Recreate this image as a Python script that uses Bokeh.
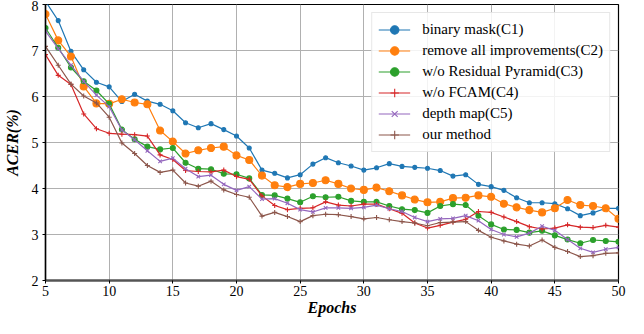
from bokeh.plotting import figure
from bokeh.models import Range1d, Legend, LegendItem, FixedTicker
from bokeh.embed import file_html
from bokeh.resources import INLINE

epochs = list(range(5, 51))

c1_binary_mask = [8.07, 7.65, 6.98, 6.58, 6.31, 6.21, 5.89, 6.05, 5.90, 5.83, 5.69, 5.43, 5.32, 5.41, 5.28,
                  5.14, 4.88, 4.40, 4.33, 4.23, 4.30, 4.53, 4.67, 4.56, 4.49, 4.40, 4.45, 4.54, 4.48, 4.46,
                  4.44, 4.39, 4.27, 4.30, 4.09, 4.04, 3.96, 3.80, 3.69, 3.69, 3.67, 3.56, 3.41, 3.47, 3.57, 3.57]
c2_remove_all = [7.79, 7.22, 6.87, 6.22, 5.85, 5.84, 5.94, 5.87, 5.83, 5.26, 5.02, 4.76, 4.83, 4.88, 4.91,
                 4.72, 4.62, 4.28, 4.07, 4.03, 4.10, 4.12, 4.18, 4.10, 4.00, 3.97, 4.02, 3.94, 3.85, 3.76,
                 3.70, 3.71, 3.79, 3.80, 3.85, 3.82, 3.67, 3.59, 3.53, 3.48, 3.57, 3.75, 3.64, 3.62, 3.57, 3.34]
c3_wo_residual = [7.49, 7.06, 6.63, 6.33, 6.13, 5.84, 5.28, 5.07, 4.91, 4.85, 4.88, 4.56, 4.43, 4.42, 4.32,
                  4.31, 4.22, 3.86, 3.85, 3.78, 3.70, 3.83, 3.81, 3.82, 3.73, 3.71, 3.71, 3.62, 3.55, 3.53,
                  3.47, 3.62, 3.66, 3.64, 3.41, 3.22, 3.11, 3.10, 3.04, 3.08, 2.98, 2.89, 2.81, 2.88, 2.86, 2.84]
c4_wo_fcam = [6.91, 6.46, 6.26, 5.62, 5.30, 5.20, 5.18, 5.17, 5.14, 4.73, 4.63, 4.39, 4.37, 4.36, 4.40,
              4.26, 4.20, 3.84, 3.63, 3.54, 3.57, 3.58, 3.71, 3.64, 3.62, 3.66, 3.66, 3.56, 3.46, 3.25,
              3.14, 3.20, 3.27, 3.33, 3.50, 3.48, 3.38, 3.28, 3.17, 3.12, 3.14, 3.21, 3.16, 3.15, 3.20, 3.16]
c5_depth_map = [7.42, 7.04, 6.68, 6.33, 6.03, 5.78, 5.27, 5.06, 4.82, 4.59, 4.66, 4.43, 4.26, 4.29, 4.09,
                3.96, 4.04, 3.77, 3.78, 3.68, 3.54, 3.49, 3.58, 3.58, 3.57, 3.59, 3.64, 3.56, 3.50, 3.37,
                3.28, 3.34, 3.35, 3.41, 3.30, 3.11, 3.00, 2.95, 3.03, 3.18, 3.09, 2.89, 2.70, 2.61, 2.68, 2.72]
c6_our_method = [7.09, 6.68, 6.27, 6.01, 5.86, 5.55, 4.99, 4.76, 4.50, 4.35, 4.40, 4.12, 4.05, 4.16, 3.97,
                 3.87, 3.81, 3.40, 3.48, 3.39, 3.28, 3.41, 3.44, 3.43, 3.39, 3.34, 3.37, 3.32, 3.28, 3.25,
                 3.19, 3.26, 3.27, 3.28, 3.09, 2.94, 2.86, 2.79, 2.75, 2.88, 2.72, 2.63, 2.52, 2.54, 2.59, 2.60]

labels = ["binary mask(C1)", "remove all improvements(C2)", "w/o Residual Pyramid(C3)",
          "w/o FCAM(C4)", "depth map(C5)", "our method"]
x_ticks = [5, 10, 15, 20, 25, 30, 35, 40, 45, 50]
y_ticks = [2, 3, 4, 5, 6, 7, 8]

series = [c1_binary_mask, c2_remove_all, c3_wo_residual, c4_wo_fcam, c5_depth_map, c6_our_method]
colors = ["#1f77b4", "#ff7f0e", "#2ca02c", "#d62728", "#9467bd", "#8c564b"]
markers = ["circle", "circle", "circle", "cross", "x", "cross"]
msizes = [4, 7, 5, 5, 5, 5]

FONT = "Times New Roman"

p = figure(width=628, height=318, output_backend="svg", toolbar_location=None,
           x_range=Range1d(5, 50), y_range=Range1d(2, 8),
           min_border_left=41, min_border_right=10, min_border_top=4, min_border_bottom=38)

p.outline_line_color = "black"
p.outline_line_width = 1.2
p.background_fill_color = "white"
p.border_fill_color = "white"

items = []
for ys, c, m, s, lab in zip(series, colors, markers, msizes, labels):
    r1 = p.line(epochs, ys, line_color=c, line_width=1.2)
    r2 = p.scatter(epochs, ys, marker=m, size=s, fill_color=c, line_color=c, line_width=1.1)
    items.append(LegendItem(label=lab, renderers=[r1, r2]))

legend = Legend(items=items, location="top_right")
legend.label_text_font = FONT
legend.label_text_font_size = "15px"
legend.label_text_color = "black"
legend.glyph_width = 32
legend.glyph_height = 21
legend.label_height = 21
legend.label_standoff = 12
legend.spacing = 0
legend.padding = 6
legend.margin = 8
legend.border_line_color = "#d0d0d0"
legend.border_line_width = 1
legend.background_fill_alpha = 0.85
p.add_layout(legend)

for ax in (p.xaxis[0], p.yaxis[0]):
    ax.major_label_text_font = FONT
    ax.major_label_text_font_size = "14px"
    ax.major_label_text_color = "black"
    ax.axis_label_text_font = FONT
    ax.axis_label_text_font_size = "16px"
    ax.axis_label_text_font_style = "bold italic"
    ax.axis_label_text_color = "black"
    ax.minor_tick_line_color = None
    ax.major_tick_out = 3
    ax.major_tick_in = 0
    ax.major_tick_line_color = "black"
    ax.axis_line_color = "black"
    ax.axis_line_width = 1.5

p.xaxis[0].ticker = FixedTicker(ticks=x_ticks)
p.yaxis[0].ticker = FixedTicker(ticks=y_ticks)
p.xaxis[0].axis_label = "Epochs"
p.yaxis[0].axis_label = "ACER(%)"
p.xaxis[0].axis_label_standoff = 0
p.yaxis[0].axis_label_standoff = 8
p.xaxis[0].major_label_standoff = 2
p.yaxis[0].major_label_standoff = 4
p.xaxis[0].axis_line_color = "#555555"
p.xaxis[0].axis_line_width = 2.5

p.xgrid.grid_line_color = "#b0b0b0"
p.ygrid.grid_line_color = "#b0b0b0"
p.xgrid.grid_line_width = 1
p.ygrid.grid_line_width = 1

open("out.html", "w").write(file_html(p, INLINE))
